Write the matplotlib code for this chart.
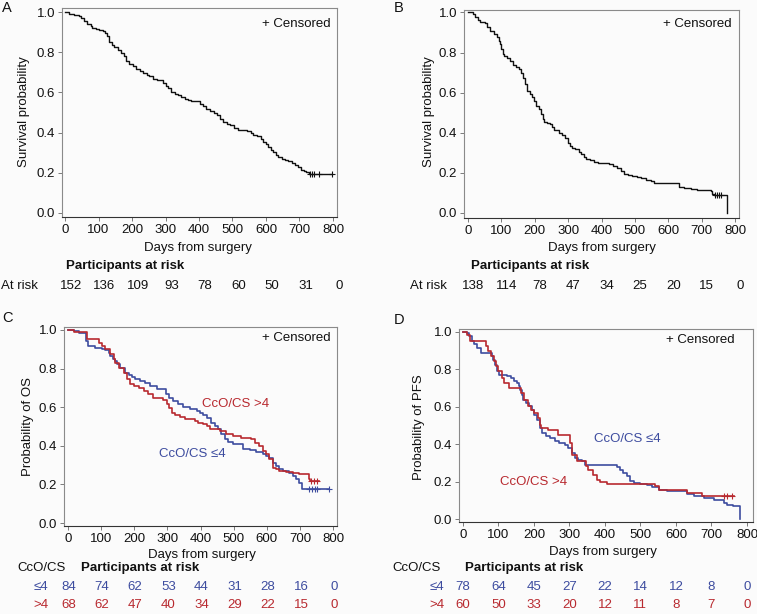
import numpy as np
import matplotlib
matplotlib.use('Agg')
import matplotlib.pyplot as plt
import matplotlib.transforms as mtransforms

plt.rcParams['font.family'] = ['Liberation Sans', 'DejaVu Sans']

# ---------------- data ----------------
xticks = [0, 100, 200, 300, 400, 500, 600, 700, 800]
yticks = [0.0, 0.2, 0.4, 0.6, 0.8, 1.0]

# Panel A: overall survival
a_time = [0, 12, 27, 42, 47, 57, 67, 77, 82, 92, 102, 112, 120, 125, 132, 140, 147, 157, 167, 175,
          182, 192, 202, 212, 224, 234, 244, 252, 262, 274, 292, 300, 307, 317, 327, 337, 347, 357, 367, 377,
          392, 402, 412, 422, 432, 444, 454, 462, 472, 484, 492, 504, 517, 532, 544, 554, 562, 572, 584, 592,
          600, 607, 614, 622, 630, 637, 647, 657, 667, 677, 687, 697, 704, 712, 719, 727, 797]
a_surv = [1.000, 0.992, 0.987, 0.978, 0.970, 0.954, 0.942, 0.929, 0.920, 0.917, 0.912, 0.907, 0.896, 0.879, 0.851,
          0.837, 0.826, 0.813, 0.796, 0.779, 0.758, 0.741, 0.730, 0.718, 0.708, 0.697, 0.688, 0.680, 0.668, 0.663,
          0.647, 0.630, 0.622, 0.602, 0.592, 0.585, 0.575, 0.569, 0.564, 0.559, 0.556, 0.544, 0.531, 0.519, 0.509,
          0.498, 0.489, 0.469, 0.453, 0.443, 0.436, 0.423, 0.415, 0.411, 0.406, 0.398, 0.390, 0.381, 0.370, 0.353,
          0.343, 0.327, 0.315, 0.303, 0.290, 0.277, 0.270, 0.265, 0.260, 0.249, 0.240, 0.227, 0.216, 0.207, 0.202,
          0.196, 0.196]
a_cens = [732, 737, 744, 757, 797]
a_risk = [152, 136, 109, 93, 78, 60, 50, 31, 0]

# Panel B: progression-free survival
b_time = [0, 15, 22, 29, 37, 52, 57, 67, 79, 87, 92, 97, 100, 105, 109, 117, 125, 135, 145, 152,
          159, 165, 172, 177, 185, 192, 199, 205, 212, 219, 225, 229, 237, 245, 252, 259, 272, 282, 292, 299,
          305, 312, 322, 332, 339, 347, 355, 365, 379, 389, 422, 435, 445, 457, 467, 479, 492, 507, 519, 532,
          547, 557, 632, 647, 667, 687, 727, 732, 737, 777]
b_surv = [1.0, 0.992, 0.975, 0.962, 0.950, 0.945, 0.925, 0.908, 0.892, 0.875, 0.858, 0.842, 0.817, 0.792, 0.783,
          0.775, 0.758, 0.738, 0.728, 0.717, 0.700, 0.675, 0.645, 0.608, 0.595, 0.578, 0.558, 0.533, 0.517, 0.495,
          0.467, 0.455, 0.450, 0.442, 0.428, 0.412, 0.400, 0.388, 0.372, 0.350, 0.333, 0.325, 0.317, 0.305, 0.292,
          0.278, 0.267, 0.262, 0.255, 0.248, 0.242, 0.233, 0.222, 0.208, 0.195, 0.188, 0.183, 0.178, 0.172, 0.165,
          0.158, 0.150, 0.128, 0.125, 0.120, 0.115, 0.108, 0.095, 0.088, 0.0]
b_cens = [739, 745, 753, 759]
b_risk = [138, 114, 78, 47, 34, 25, 20, 15, 0]

# Panel C: OS by CcO/CS
c_le4_time = [0, 18, 33, 53, 60, 83, 103, 113, 123, 128, 136, 143, 148, 158, 173, 183, 193, 203, 218, 233,
              248, 268, 288, 296, 306, 318, 333, 348, 368, 388, 398, 408, 420, 433, 443, 453, 463, 473, 483, 498,
              528, 548, 568, 588, 598, 608, 618, 628, 638, 648, 668, 678, 688, 698, 706, 788]
c_le4_surv = [1.0, 0.995, 0.983, 0.943, 0.917, 0.908, 0.903, 0.896, 0.883, 0.865, 0.848, 0.839, 0.822, 0.805, 0.779,
              0.765, 0.758, 0.744, 0.736, 0.727, 0.710, 0.696, 0.693, 0.667, 0.649, 0.632, 0.615, 0.603, 0.592, 0.580,
              0.568, 0.558, 0.546, 0.520, 0.503, 0.485, 0.459, 0.434, 0.420, 0.408, 0.385, 0.378, 0.368, 0.356, 0.347,
              0.339, 0.313, 0.295, 0.278, 0.269, 0.261, 0.244, 0.226, 0.209, 0.174, 0.174]
c_le4_cens = [728, 736, 746, 753, 788]
c_gt4_time = [0, 18, 58, 93, 103, 113, 128, 138, 143, 153, 168, 178, 188, 198, 213, 228, 243, 258, 288, 298,
              306, 313, 323, 338, 353, 363, 383, 393, 408, 420, 428, 443, 458, 478, 498, 523, 553, 563, 578, 588,
              598, 608, 618, 628, 638, 658, 678, 698, 713, 726, 730, 758]
c_gt4_surv = [1.0, 0.990, 0.955, 0.934, 0.917, 0.900, 0.874, 0.848, 0.827, 0.805, 0.779, 0.744, 0.718, 0.710, 0.701,
              0.684, 0.667, 0.650, 0.637, 0.615, 0.598, 0.568, 0.558, 0.551, 0.541, 0.537, 0.528, 0.520, 0.511, 0.503,
              0.489, 0.485, 0.477, 0.459, 0.451, 0.442, 0.433, 0.413, 0.399, 0.373, 0.356, 0.330, 0.287, 0.278, 0.269,
              0.264, 0.261, 0.256, 0.252, 0.226, 0.218, 0.218]
c_gt4_cens = [733, 743, 753]
c_risk_le4 = [84, 74, 62, 53, 44, 31, 28, 16, 0]
c_risk_gt4 = [68, 62, 47, 40, 34, 29, 22, 15, 0]

# Panel D: PFS by CcO/CS
d_le4_time = [0, 12, 17, 25, 31, 41, 50, 81, 85, 91, 97, 102, 123, 135, 145, 151, 157, 162, 166, 170,
              178, 187, 195, 201, 208, 216, 223, 233, 244, 258, 272, 287, 296, 306, 315, 324, 334, 343, 433, 443,
              452, 462, 471, 481, 499, 518, 533, 552, 575, 632, 651, 679, 708, 736, 745, 760, 779]
d_le4_surv = [1.0, 0.995, 0.977, 0.950, 0.936, 0.914, 0.888, 0.870, 0.852, 0.825, 0.793, 0.772, 0.763, 0.754, 0.740,
              0.727, 0.709, 0.692, 0.665, 0.638, 0.620, 0.602, 0.585, 0.554, 0.531, 0.487, 0.460, 0.442, 0.433, 0.415,
              0.406, 0.398, 0.380, 0.353, 0.326, 0.317, 0.308, 0.287, 0.276, 0.264, 0.246, 0.228, 0.205, 0.193, 0.187,
              0.180, 0.169, 0.157, 0.148, 0.135, 0.121, 0.112, 0.103, 0.086, 0.077, 0.068, 0.0]
d_le4_cens = []
d_gt4_time = [0, 12, 19, 64, 72, 79, 88, 93, 100, 110, 116, 129, 164, 173, 183, 192, 201, 211, 216, 220,
              239, 268, 301, 308, 320, 346, 353, 367, 377, 386, 405, 542, 551, 632, 674, 764]
d_gt4_surv = [1.0, 0.986, 0.950, 0.923, 0.897, 0.870, 0.843, 0.816, 0.790, 0.754, 0.727, 0.700, 0.674, 0.638, 0.602,
              0.585, 0.567, 0.540, 0.504, 0.487, 0.478, 0.451, 0.406, 0.344, 0.308, 0.282, 0.264, 0.237, 0.210, 0.198,
              0.187, 0.175, 0.157, 0.139, 0.121, 0.121]
d_gt4_cens = [736, 745, 757]
d_risk_le4 = [78, 64, 45, 27, 22, 14, 12, 8, 0]
d_risk_gt4 = [60, 50, 33, 20, 12, 11, 8, 7, 0]

# ---------------- style ----------------
W, H = 757, 614
FS = 9.5
BLUE = '#3d4c9f'
RED = '#b8292f'
BLACK = '#111111'
BG = '#fbfbfb'

fig = plt.figure(figsize=(W / 100, H / 100), dpi=100)
fig.patch.set_facecolor(BG)


def px_axes(l, t, r, b):
    return fig.add_axes([l / W, 1 - b / H, (r - l) / W, (b - t) / H])


def ftext(x, y, s, **kw):
    kw.setdefault('fontsize', FS)
    kw.setdefault('color', BLACK)
    fig.text(x / W, 1 - y / H, s, **kw)


def style(ax, xlim, ylim):
    ax.set_facecolor(BG)
    ax.set_xlim(*xlim)
    ax.set_ylim(*ylim)
    ax.set_xticks(xticks)
    ax.set_yticks(yticks)
    ax.set_yticklabels(['%.1f' % v for v in yticks])
    for sp in ['top', 'right', 'left']:
        ax.spines[sp].set_color('#8a8a8a')
        ax.spines[sp].set_linewidth(0.8)
    ax.spines['bottom'].set_color('#333333')
    ax.spines['bottom'].set_linewidth(0.8)
    ax.tick_params(direction='out', length=3, width=0.6, colors='#666666',
                   labelcolor=BLACK, labelsize=FS, pad=2)


def step_at(times, surv, xs):
    t = np.asarray(times)
    s = np.asarray(surv)
    idx = np.searchsorted(t, xs, side='right') - 1
    return s[idx]


def km(ax, times, surv, cens, color, lw):
    ax.step(times, surv, where='post', color=color, lw=lw)
    if len(cens):
        ax.plot(cens, step_at(times, surv, cens), linestyle='none', marker='+',
                ms=4, mew=0.8, color=color)


def risk_row(ax, y, values, color, dx_px=0):
    tr = mtransforms.blended_transform_factory(ax.transData, fig.transFigure)
    tr = tr + mtransforms.ScaledTranslation(dx_px / 100, 0, fig.dpi_scale_trans)
    for xv, v in zip(xticks, values):
        fig.text(xv, 1 - y / H, str(v), transform=tr, ha='center', va='center',
                 fontsize=FS, color=color)


# ---------------- Panel A ----------------
axA = px_axes(62, 8, 337, 217)
style(axA, (-9, 812), (-0.02, 1.02))
km(axA, a_time, a_surv, a_cens, BLACK, 1.0)
ftext(331, 24, '+ Censored', ha='right', va='center')
ftext(2, 8, 'A', fontsize=10.5, ha='left', va='center')
ftext(24, 112, 'Survival probability', rotation=90, ha='center', va='center')
ftext(198, 248, 'Days from surgery', ha='center', va='center')
ftext(125, 266, 'Participants at risk', ha='center', va='center', fontweight='bold')
ftext(1, 286, 'At risk', ha='left', va='center')
risk_row(axA, 286, a_risk, BLACK, dx_px=6)

# ---------------- Panel B ----------------
axB = px_axes(464, 10, 739, 218)
style(axB, (-12, 812), (-0.025, 1.012))
km(axB, b_time, b_surv, b_cens, BLACK, 1.0)
ftext(732, 24, '+ Censored', ha='right', va='center')
ftext(394, 8, 'B', fontsize=10.5, ha='left', va='center')
ftext(429, 112, 'Survival probability', rotation=90, ha='center', va='center')
ftext(602, 248, 'Days from surgery', ha='center', va='center')
ftext(530, 266, 'Participants at risk', ha='center', va='center', fontweight='bold')
ftext(410, 286, 'At risk', ha='left', va='center')
risk_row(axB, 286, b_risk, BLACK, dx_px=5)

# ---------------- Panel C ----------------
axC = px_axes(64, 327, 337, 526)
style(axC, (-12, 812), (-0.0155, 1.0155))
km(axC, c_le4_time, c_le4_surv, c_le4_cens, BLUE, 1.2)
km(axC, c_gt4_time, c_gt4_surv, c_gt4_cens, RED, 1.2)
axC.text(405, 0.617, 'CcO/CS >4', color=RED, fontsize=FS, ha='left', va='center')
axC.text(275, 0.357, 'CcO/CS \u22644', color=BLUE, fontsize=FS, ha='left', va='center')
ftext(331, 338, '+ Censored', ha='right', va='center')
ftext(2, 318, 'C', fontsize=10.5, ha='left', va='center')
ftext(28, 427, 'Probability of OS', rotation=90, ha='center', va='center')
ftext(202, 555, 'Days from surgery', ha='center', va='center')
ftext(17, 568, 'CcO/CS', ha='left', va='center')
ftext(140, 568, 'Participants at risk', ha='center', va='center', fontweight='bold')
ftext(48, 587, '\u22644', ha='right', va='center', color=BLUE)
ftext(48, 605, '>4', ha='right', va='center', color=RED)
risk_row(axC, 587, c_risk_le4, BLUE, dx_px=1)
risk_row(axC, 605, c_risk_gt4, RED, dx_px=1)

# ---------------- Panel D ----------------
axD = px_axes(459, 329, 753, 522)
style(axD, (-11, 817), (-0.016, 1.016))
km(axD, d_le4_time, d_le4_surv, d_le4_cens, BLUE, 1.2)
km(axD, d_gt4_time, d_gt4_surv, d_gt4_cens, RED, 1.2)
axD.text(369, 0.428, 'CcO/CS \u22644', color=BLUE, fontsize=FS, ha='left', va='center')
axD.text(104, 0.198, 'CcO/CS >4', color=RED, fontsize=FS, ha='left', va='center')
ftext(735, 340, '+ Censored', ha='right', va='center')
ftext(394, 320, 'D', fontsize=10.5, ha='left', va='center')
ftext(419, 427, 'Probability of PFS', rotation=90, ha='center', va='center')
ftext(603, 552, 'Days from surgery', ha='center', va='center')
ftext(392, 568, 'CcO/CS', ha='left', va='center')
ftext(524, 568, 'Participants at risk', ha='center', va='center', fontweight='bold')
ftext(444, 587, '\u22644', ha='right', va='center', color=BLUE)
ftext(444, 605, '>4', ha='right', va='center', color=RED)
risk_row(axD, 587, d_risk_le4, BLUE, dx_px=0)
risk_row(axD, 605, d_risk_gt4, RED, dx_px=0)

fig.savefig('out.png', dpi=100, facecolor=BG)
